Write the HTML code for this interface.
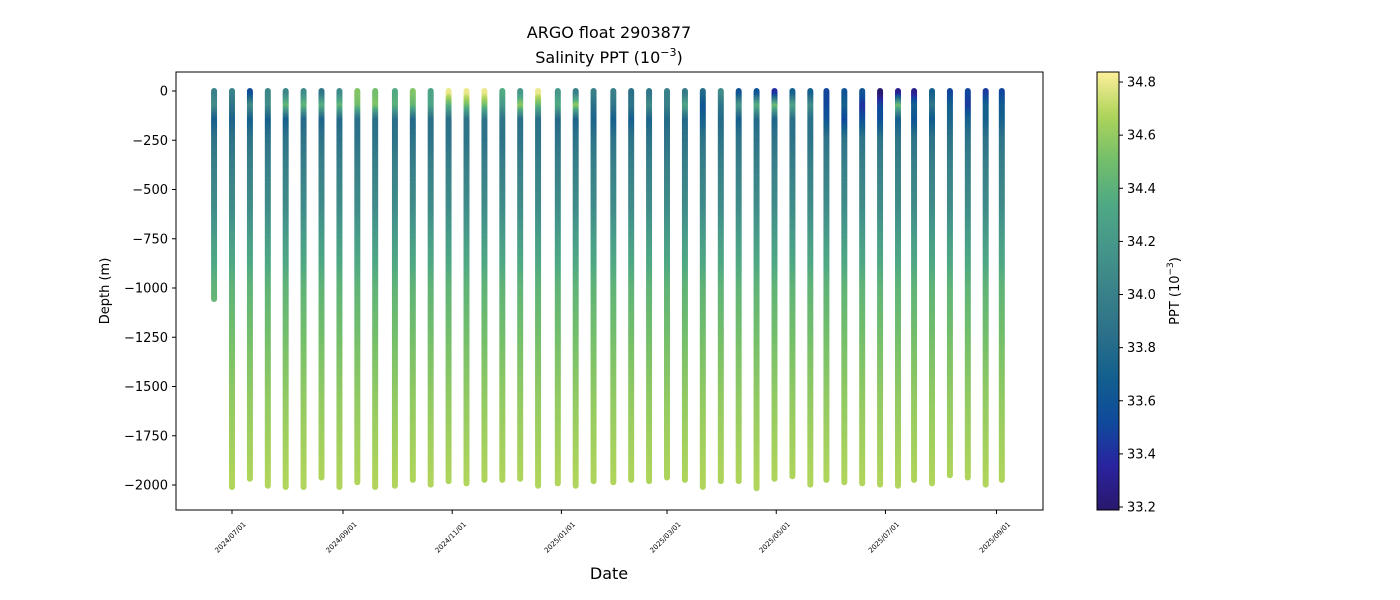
<!DOCTYPE html>
<html><head><meta charset="utf-8">
<style>
body{margin:0;background:#fff;}
svg{display:block;font-family:"DejaVu Sans","Liberation Sans",sans-serif;}
</style></head>
<body>
<svg id="chart" width="1400" height="600">
<defs>
<linearGradient id="cbgrad" x1="0" y1="1" x2="0" y2="0">
<stop offset="0" stop-color="#29186b"/><stop offset="0.1" stop-color="#2a23a0"/><stop offset="0.2" stop-color="#0f4a9c"/><stop offset="0.3" stop-color="#125f8e"/><stop offset="0.4" stop-color="#2b7089"/><stop offset="0.5" stop-color="#3a8289"/><stop offset="0.6" stop-color="#45968a"/><stop offset="0.7" stop-color="#4fa983"/><stop offset="0.8" stop-color="#74bf6b"/><stop offset="0.9" stop-color="#aed45b"/><stop offset="1" stop-color="#fdef9a"/>
</linearGradient>
</defs>
<text x="609" y="38" font-size="16" text-anchor="middle">ARGO float 2903877</text>
<text x="609" y="63" font-size="16" text-anchor="middle">Salinity PPT (10<tspan dy="-7" font-size="11">−3</tspan><tspan dy="7">)</tspan></text>
<g id="marks"></g>
<rect x="176" y="72" width="867" height="438" fill="none" stroke="#000" stroke-width="1"/>
<g id="yaxis"></g>
<g id="xaxis"></g>
<text x="0" y="0" font-size="13" text-anchor="middle" transform="translate(109,291) rotate(-90)">Depth (m)</text>
<text x="609" y="579" font-size="16" text-anchor="middle">Date</text>
<rect x="1097" y="72" width="22" height="438" fill="url(#cbgrad)" stroke="#000" stroke-width="1"/>
<g id="cbaxis"></g>
<text font-size="13" text-anchor="middle" transform="translate(1179,291) rotate(-90)">PPT (10<tspan dy="-6" font-size="9">−3</tspan><tspan dy="6">)</tspan></text>
</svg>
<script>
const profileDays=[-10,0,10,20,30,40,50,60,70,80,91,101,111,121,131,141,151,161,171,182,192,202,213,223,233,243,253,263,273,283,293,303,313,323,332,342,352,362,372,381,391,401,411,421,430];
const maxDepth=[1060,2010,1971,2004,2011,2011,1965,2010,1986,2013,2004,1974,2001,1983,1992,1977,1977,1973,2004,1995,2006,1985,1990,1974,1983,1962,1974,2015,1980,1982,2017,1968,1956,2000,1974,1986,1995,2001,2008,1974,1997,1955,1965,2001,1977];
const salSurface=[34.0,34.0,33.55,34.05,34.05,34.1,33.9,34.1,34.55,34.5,34.35,34.55,34.3,34.8,34.8,34.8,34.35,34.2,34.8,34.2,34.0,34.0,34.0,33.85,33.9,34.0,33.95,33.8,34.1,33.6,33.6,33.4,33.7,33.7,33.5,33.6,33.6,33.2,33.3,33.3,33.7,33.5,33.5,33.45,33.5];
const salMixed=[34.1,33.9,34.1,34.1,34.45,34.45,34.4,34.45,34.5,34.55,34.4,34.45,34.3,34.4,34.5,34.5,34.2,34.6,34.45,34.35,34.6,33.85,33.9,33.9,34.1,34.0,34.3,33.6,33.9,34.2,34.4,34.5,34.3,34.1,33.5,33.7,33.4,33.5,34.5,33.7,33.9,33.7,33.45,33.7,33.65];
const salSub=[33.7,33.75,33.7,33.7,33.7,33.8,33.75,33.8,33.85,33.85,33.85,33.8,33.85,33.85,33.9,33.9,33.9,33.85,33.85,33.8,33.75,33.75,33.7,33.7,33.75,33.8,33.8,33.7,33.8,33.7,33.8,33.75,33.85,33.85,33.6,33.5,33.55,33.55,33.7,33.6,33.65,33.75,33.7,33.7,33.7];
const deepLevels=[250,400,600,800,1000,1300,1600,2000];
const deepSal=[33.88,34.0,34.1,34.28,34.42,34.52,34.6,34.68];
const yTicks=[0,-250,-500,-750,-1000,-1250,-1500,-1750,-2000];
const xTickDays=[0,62,123,184,243,304,365,427];
const xTickLabels=["2024/07/01","2024/09/01","2024/11/01","2025/01/01","2025/03/01","2025/05/01","2025/07/01","2025/09/01"];
const cbTicks=[33.2,33.4,33.6,33.8,34.0,34.2,34.4,34.6,34.8];

const NS="http://www.w3.org/2000/svg";
const yScale=d=>91-d*0.197;
const xScale=day=>232+day*1.7903;
const cMin=33.189,cMax=34.838;
const cbScale=v=>507-(v-33.2)*265.6;
const stops=[[0,41,24,107],[0.1,42,35,160],[0.2,15,74,156],[0.3,18,95,142],[0.4,43,112,137],[0.5,58,130,137],[0.6,69,150,138],[0.7,79,169,131],[0.8,116,191,107],[0.9,174,212,91],[1,253,239,154]];
function cmap(v){let t=Math.max(0,Math.min(1,(v-cMin)/(cMax-cMin)));
 for(let i=1;i<stops.length;i++){if(t<=stops[i][0]){const a=stops[i-1],b=stops[i];const f=(t-a[0])/(b[0]-a[0]);
  return `rgb(${Math.round(a[1]+f*(b[1]-a[1]))},${Math.round(a[2]+f*(b[2]-a[2]))},${Math.round(a[3]+f*(b[3]-a[3]))})`;}}
 return "rgb(253,239,154)";}
function el(tag,attrs,parent){const e=document.createElementNS(NS,tag);for(const k in attrs)e.setAttribute(k,attrs[k]);parent.appendChild(e);return e;}

const marks=document.getElementById('marks');
profileDays.forEach((day,i)=>{
 const lv=[0,20,80,150].concat(deepLevels);
 const sv=[salSurface[i],salSurface[i],salMixed[i],salSub[i]].concat(deepSal);
 const g=el('g',{},marks);
 
 
 const x=xScale(day);
 for(let d=0;d<=maxDepth[i];d+=6){
  let k=1;while(k<lv.length-1&&d>lv[k])k++;
  const f=Math.min(1,(d-lv[k-1])/(lv[k]-lv[k-1]));
  const s=sv[k-1]+f*(sv[k]-sv[k-1]);
  el('circle',{cx:x.toFixed(1),cy:yScale(-d).toFixed(1),r:3,fill:cmap(s)},g);
 }
});
const ya=document.getElementById('yaxis');
yTicks.forEach(v=>{const y=yScale(v);
 el('line',{x1:172,x2:176,y1:y,y2:y,stroke:'#000'},ya);
 const t=el('text',{x:168,y:y+4.5,'font-size':13,'text-anchor':'end'},ya);
 t.textContent=v===0?'0':'−'+Math.abs(v);
 
 
});
const xa=document.getElementById('xaxis');
xTickDays.forEach((d,i)=>{const x=xScale(d);
 el('line',{x1:x,x2:x,y1:510,y2:514,stroke:'#000'},xa);
 const t=el('text',{'font-size':7,'text-anchor':'middle',transform:`translate(${x},${539}) rotate(-45)`},xa);
 t.textContent=xTickLabels[i];
 
 
});
const ca=document.getElementById('cbaxis');
cbTicks.forEach(v=>{const y=cbScale(v);
 el('line',{x1:1119,x2:1123,y1:y,y2:y,stroke:'#000'},ca);
 const t=el('text',{x:1127,y:y+4.5,'font-size':13},ca);
 t.textContent=v.toFixed(1);
 
 
});
</script>
</body></html>
